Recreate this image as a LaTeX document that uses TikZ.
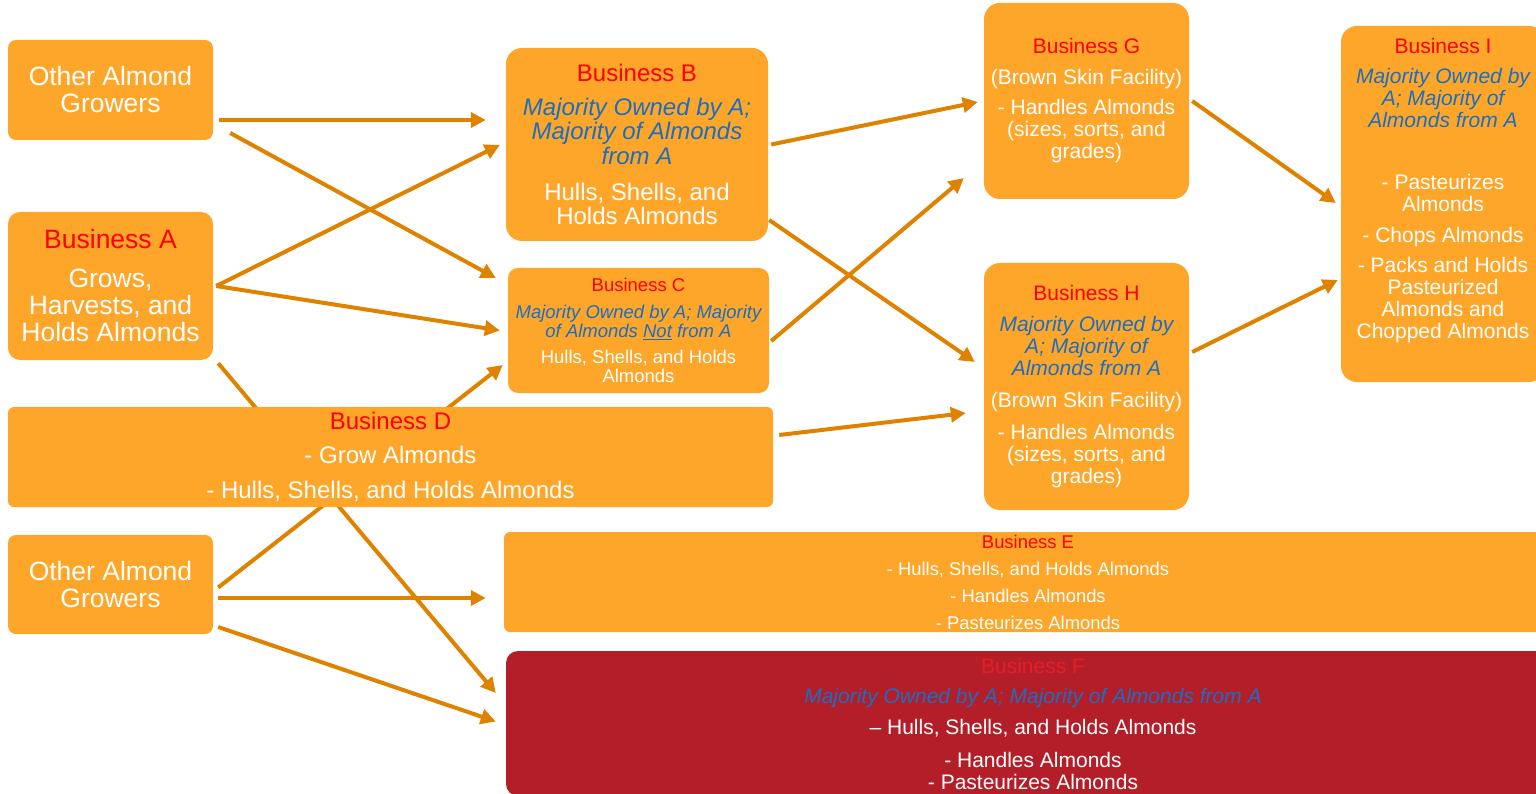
\documentclass[tikz,border=0pt]{standalone}
\usepackage{fontspec}
\setmainfont{Liberation Sans}
\usetikzlibrary{arrows.meta,calc,backgrounds}
\definecolor{boxor}{HTML}{FEA62A}
\definecolor{arrowor}{HTML}{DE8200}
\definecolor{boxred}{HTML}{B31E29}
\definecolor{txtred}{HTML}{FF0000}
\definecolor{fred}{HTML}{E3202A}
\definecolor{txtblue}{HTML}{1B6EC0}
\newcommand{\fsz}[2]{\fontsize{#1}{#2}\selectfont}
\newcommand{\hdr}[1]{\textcolor{txtred}{#1}}
\newcommand{\itb}[1]{\textcolor{txtblue}{\itshape #1}}
\begin{document}
\begin{tikzpicture}[x=1pt,y=-1pt,
  bx/.style={fill=boxor, draw=none, text=white, align=center, inner sep=0pt},
  flow/.style={draw=arrowor, line width=4pt, -{Triangle[length=15pt,width=15pt]}}]
\useasboundingbox (0,0) rectangle (1536,794);
\clip (0,0) rectangle (1536,794);

% boxes
\node[bx, rounded corners=8pt, minimum width=205pt, minimum height=100pt, font=\fsz{26.5}{27}] (oag1) at (110.5,90)
  {Other Almond\\Growers};
\node[bx, rounded corners=12pt, minimum width=205pt, minimum height=148pt, font=\fsz{26.5}{27}] (bA) at (110.5,286)
  {\hdr{Business A}\\[12pt]Grows,\\Harvests, and\\Holds Almonds};
\node[bx, rounded corners=16pt, minimum width=262pt, minimum height=193pt, font=\fsz{24}{24.5}] (bB) at (637,144.5)
  {\hdr{Business B}\\[9.5pt]\itb{Majority Owned by A;}\\\itb{Majority of Almonds}\\\itb{from A}\\[11.5pt]Hulls, Shells, and\\Holds Almonds};
\node[bx, rounded corners=10pt, minimum width=261pt, minimum height=125pt, font=\fsz{18.5}{19}] (bC) at (638.5,330.5)
  {\hdr{Business C}\\[8pt]\itb{Majority Owned by A; Majority}\\\itb{of Almonds \underline{Not} from A}\\[7pt]Hulls, Shells, and Holds\\Almonds};
\node[bx, rounded corners=6pt, minimum width=765pt, minimum height=100pt, font=\fsz{24}{24}] (bD) at (390.5,457)
  {\hdr{Business D}\\[10pt]- Grow Almonds\\[11pt]- Hulls, Shells, and Holds Almonds};
\node[bx, rounded corners=8pt, minimum width=205pt, minimum height=99pt, font=\fsz{26.5}{27}] (oag2) at (110.5,584.5)
  {Other Almond\\Growers};
\node[bx, rounded corners=6pt, minimum width=1048pt, minimum height=100pt, font=\fsz{18.4}{18.5}] (bE) at (1028,582)
  {\hdr{Business E}\\[8.5pt]- Hulls, Shells, and Holds Almonds\\[8.5pt]- Handles Almonds\\[8.5pt]- Pasteurizes Almonds};
\node[bx, fill=boxred, rounded corners=12pt, minimum width=1054pt, minimum height=145pt, font=\fsz{21}{22}] (bF) at (1033,723.5)
  {\textcolor{fred}{Business F}\\[8pt]\itb{Majority Owned by A; Majority of Almonds from A}\\[9pt]\textendash{} Hulls, Shells, and Holds Almonds\\[11pt]- Handles Almonds\\- Pasteurizes Almonds};
\node[bx, rounded corners=16pt, minimum width=205pt, minimum height=196pt, font=\fsz{21}{22}] (bG) at (1086.5,101)
  {\hdr{Business G}\\[9pt](Brown Skin Facility)\\[8pt]- Handles Almonds\\(sizes, sorts, and\\grades)};
\node[bx, rounded corners=16pt, minimum width=205pt, minimum height=247pt, font=\fsz{21}{22}] (bH) at (1086.5,386.5)
  {\hdr{Business H}\\[9pt]\itb{Majority Owned by}\\\itb{A; Majority of}\\\itb{Almonds from A}\\[10pt](Brown Skin Facility)\\[10pt]- Handles Almonds\\(sizes, sorts, and\\grades)};
\node[bx, rounded corners=16pt, minimum width=204pt, minimum height=356pt, font=\fsz{21}{22}] (bI) at (1443,204)
  {\hdr{Business I}\\[8pt]\itb{Majority Owned by}\\\itb{A; Majority of}\\\itb{Almonds from A}\\[40pt]- Pasteurizes\\Almonds\\[9pt]- Chops Almonds\\[8pt]- Packs and Holds\\Pasteurized\\Almonds and\\Chopped Almonds\\[10pt]\mbox{}};

% connectors
\begin{scope}[on background layer]
\draw[flow] ($(oag1.east)+(6,30)$) -- ($(bB.west)+(-20,-24.5)$);
\draw[flow] ($(oag1.east)+(17,43)$) -- ($(bC.west)+(-12,-52.5)$);
\draw[flow] ($(bA.east)+(3,0)$) -- ($(bB.west)+(-6,0.5)$);
\draw[flow] ($(bA.east)+(3,0)$) -- ($(bC.west)+(-8,0)$);
\draw[flow] ($(bA.south east)+(5,3)$) -- ($(bF.west)+(-10,-30.5)$);
\draw[flow] ($(oag2.east)+(5,3)$) -- ($(bC.west)+(-5,34.5)$);
\draw[flow] ($(oag2.east)+(5,13.5)$) -- ($(bE.west)+(-18,16)$);
\draw[flow] ($(oag2.east)+(5,42.5)$) -- ($(bF.west)+(-10,-2)$);
\draw[flow] ($(bD.east)+(6,-22)$) -- ($(bH.west)+(-18,26.5)$);
\draw[flow] ($(bB.east)+(3,0)$) -- ($(bG.west)+(-6,1)$);
\draw[flow] ($(bB.east)+(1,75.5)$) -- ($(bH.west)+(-9,-24.5)$);
\draw[flow] ($(bC.east)+(2,10.5)$) -- ($(bG.west)+(-20,77)$);
\draw[flow] ($(bG.east)+(3,0)$) -- ($(bI.west)+(-5,-1)$);
\draw[flow] ($(bH.east)+(3,-34.5)$) -- ($(bI.west)+(-3,76)$);
\end{scope}
\end{tikzpicture}
\end{document}
